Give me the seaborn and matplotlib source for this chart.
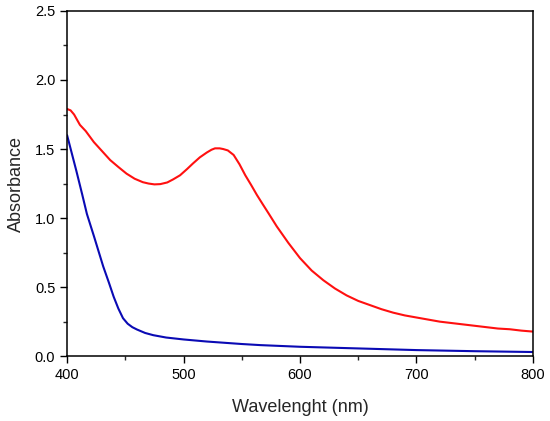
import numpy as np
import pandas as pd
import seaborn as sns
import matplotlib.pyplot as plt

# red curve (sample with plasmon band)
red_nm = [400, 403, 406, 411, 416, 423, 430, 437, 444, 451, 458, 465, 470, 475, 480, 486,
          491, 497, 503, 508, 514, 520, 524, 527, 531, 534, 538, 543, 548, 553, 558, 563,
          568, 573, 580, 590, 600, 610, 620, 630, 640, 650, 660, 670, 680, 690, 700, 710,
          720, 730, 740, 750, 760, 770, 780, 790, 800]
red_abs = [1.79, 1.78, 1.75, 1.675, 1.63, 1.55, 1.485, 1.42, 1.37, 1.322, 1.285, 1.26, 1.25,
           1.244, 1.246, 1.258, 1.28, 1.31, 1.355, 1.395, 1.44, 1.475, 1.495, 1.505, 1.505,
           1.50, 1.49, 1.457, 1.39, 1.31, 1.24, 1.167, 1.10, 1.034, 0.94, 0.82, 0.71, 0.62,
           0.55, 0.49, 0.44, 0.40, 0.37, 0.34, 0.315, 0.295, 0.28, 0.265, 0.25, 0.24, 0.23,
           0.22, 0.21, 0.20, 0.195, 0.185, 0.178]

# blue curve (reference)
blue_nm = [400, 404, 408, 413, 417, 423, 431, 436, 440, 444, 448, 452, 456, 460, 467, 474,
           485, 500, 520, 550, 566, 600, 650, 700, 750, 800]
blue_abs = [1.60, 1.47, 1.34, 1.17, 1.03, 0.87, 0.65, 0.53, 0.43, 0.345, 0.275, 0.235,
            0.21, 0.193, 0.168, 0.152, 0.135, 0.121, 0.106, 0.088, 0.080, 0.068, 0.056,
            0.044, 0.036, 0.030]

df_red = pd.DataFrame({"wl": red_nm, "a": red_abs})
df_blue = pd.DataFrame({"wl": blue_nm, "a": blue_abs})

sns.set_style("ticks")
plt.rcParams["font.family"] = ["Liberation Sans", "DejaVu Sans"]

fig = plt.figure(figsize=(5.5, 4.21), dpi=100)
ax = fig.add_axes([0.122, 0.154, 0.847, 0.82])

sns.lineplot(data=df_red, x="wl", y="a", color="#ff1010", lw=1.5, ax=ax)
sns.lineplot(data=df_blue, x="wl", y="a", color="#0a0ab4", lw=1.5, ax=ax)

ax.set_xlim(400, 800)
ax.set_ylim(0, 2.5)
ax.set_xticks([400, 500, 600, 700, 800])
ax.set_xticks([450, 550, 650, 750], minor=True)
ax.set_yticks([0, 0.5, 1.0, 1.5, 2.0, 2.5])
ax.set_yticks([0.25, 0.75, 1.25, 1.75, 2.25], minor=True)
ax.set_yticklabels(["0.0", "0.5", "1.0", "1.5", "2.0", "2.5"])
ax.tick_params(which="major", direction="out", length=5, width=1, labelsize=10.5, colors="black")
ax.tick_params(which="minor", direction="out", length=3, width=1)
for s in ax.spines.values():
    s.set_visible(True)
    s.set_linewidth(1.1)
    s.set_color("black")

ax.set_xlabel("Wavelenght (nm)", fontsize=13, labelpad=12)
ax.set_ylabel("Absorbance", fontsize=13, labelpad=7)

fig.savefig("out.png", dpi=100)
